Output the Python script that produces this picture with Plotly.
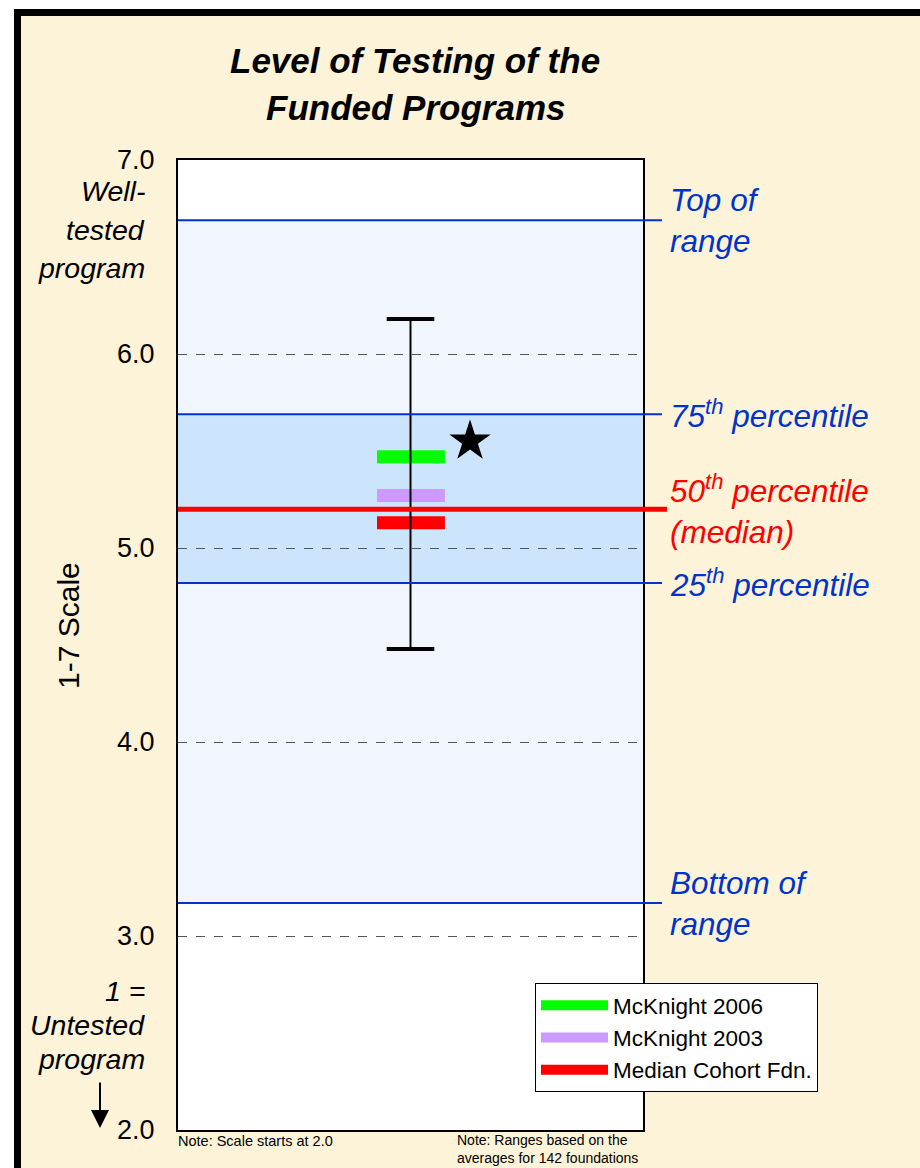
import plotly.graph_objects as go

# ---------------- data ----------------
range_names = ["Top of range", "75th percentile", "50th percentile (median)", "25th percentile", "Bottom of range"]
range_values = [6.69, 5.69, 5.20, 4.82, 3.17]   # top, p75, median, p25, bottom

series_names = ["McKnight 2006", "McKnight 2003", "Median Cohort Fdn."]
series_values = [5.47, 5.27, 5.13]
series_colors = ["#00FF00", "#CC99FF", "#FF0000"]

whisker_low = 4.48
whisker_high = 6.18
star_value = 5.55

y_ticks = [2.0, 3.0, 4.0, 5.0, 6.0, 7.0]

# --------------------------------------
FONT = "Liberation Sans, Arial, sans-serif"
BLUE = "#0033CC"
RED = "#FF0000"

W, H = 920, 1168
L, R, T, B = 178, 643, 160, 1130


def px(xp):
    return (xp - L) / (R - L)


def py(yp):
    return (B - yp) / (B - T)


top, p75, med, p25, bot = range_values

fig = go.Figure()

# bars (short horizontal marks)
for name, val, col in zip(series_names, series_values, series_colors):
    fig.add_trace(go.Scatter(
        x=[0.428, 0.574], y=[val, val], mode="lines", name=name,
        line=dict(color=col, width=13), hoverinfo="skip"))

# range whisker
fig.add_trace(go.Scatter(
    x=[0.5, 0.5], y=[whisker_low, whisker_high], mode="lines",
    line=dict(color="black", width=2), showlegend=False, hoverinfo="skip"))
fig.add_trace(go.Scatter(
    x=[0.5, 0.5], y=[whisker_low, whisker_high], mode="markers",
    marker=dict(symbol="line-ew", size=34, line=dict(color="black", width=4)),
    showlegend=False, hoverinfo="skip"))

# star
fig.add_trace(go.Scatter(
    x=[0.628], y=[star_value], mode="markers",
    marker=dict(symbol="star", size=31, color="black"),
    showlegend=False, hoverinfo="skip"))

shapes = [
    # cream card with black frame
    dict(type="rect", xref="paper", yref="paper", layer="below",
         x0=px(17.5), x1=px(940), y0=py(1190), y1=py(12.5),
         fillcolor="#FDF3D8", line=dict(color="black", width=7)),
    # white plot area
    dict(type="rect", xref="paper", yref="paper", layer="below",
         x0=0, x1=1, y0=0, y1=1, fillcolor="white", line=dict(width=0)),
    # full range band
    dict(type="rect", xref="x", yref="y", layer="below",
         x0=0, x1=1, y0=bot, y1=top, fillcolor="#F1F6FE", line=dict(width=0)),
    # interquartile band
    dict(type="rect", xref="x", yref="y", layer="below",
         x0=0, x1=1, y0=p25, y1=p75, fillcolor="#CCE4FC", line=dict(width=0)),
]
for v in [top, p75, p25, bot]:
    shapes.append(dict(type="line", xref="paper", yref="y", layer="above",
                       x0=0, x1=px(662), y0=v, y1=v,
                       line=dict(color=BLUE, width=2)))
shapes.append(dict(type="line", xref="paper", yref="y", layer="above",
                   x0=0, x1=px(667), y0=med, y1=med,
                   line=dict(color=RED, width=5)))

annotations = []
# title
annotations.append(dict(xref="paper", yref="paper", x=px(415), y=py(61),
                        text="<b><i>Level of Testing of the</i></b>", showarrow=False,
                        font=dict(family=FONT, size=35, color="black"),
                        xanchor="center", yanchor="middle"))
annotations.append(dict(xref="paper", yref="paper", x=px(415), y=py(108),
                        text="<b><i>Funded Programs</i></b>", showarrow=False,
                        font=dict(family=FONT, size=35, color="black"),
                        xanchor="center", yanchor="middle"))
# left labels
for txt, ypix in [("Well-", 191), ("tested", 230), ("program", 268),
                  ("1 =", 991), ("Untested", 1025), ("program", 1059)]:
    annotations.append(dict(xref="paper", yref="paper", x=px(147), y=py(ypix),
                            text=f"<i>{txt}</i>", showarrow=False,
                            font=dict(family=FONT, size=28.5, color="black"),
                            xanchor="right", yanchor="middle"))
# arrow
annotations.append(dict(xref="paper", yref="paper", x=px(100), y=py(1128),
                        text="", showarrow=True, ax=0, ay=-47,
                        arrowhead=2, arrowsize=1.8, arrowwidth=2, arrowcolor="black"))
# y-axis title
annotations.append(dict(xref="paper", yref="paper", x=px(68), y=py(626),
                        text="1-7 Scale", textangle=-90, showarrow=False,
                        font=dict(family=FONT, size=30, color="black"),
                        xanchor="center", yanchor="middle"))
# right labels
right_texts = ["<i>Top of<br>range</i>",
               "<i>75<sup>th</sup> percentile</i>",
               "<i>50<sup>th</sup> percentile<br>(median)</i>",
               "<i>25<sup>th</sup> percentile</i>",
               "<i>Bottom of<br>range</i>"]
right_colors = [BLUE, BLUE, RED, BLUE, BLUE]
for txt, v, col in zip(right_texts, range_values, right_colors):
    annotations.append(dict(xref="paper", yref="y", x=px(668), y=v,
                            text=txt, showarrow=False, align="left",
                            font=dict(family=FONT, size=31.5, color=col),
                            xanchor="left", yanchor="middle"))
# notes
annotations.append(dict(xref="paper", yref="paper", x=px(176), y=py(1131),
                        text="Note: Scale starts at 2.0", showarrow=False,
                        font=dict(family=FONT, size=14.5, color="black"),
                        xanchor="left", yanchor="top"))
annotations.append(dict(xref="paper", yref="paper", x=px(455), y=py(1130),
                        text="Note: Ranges based on the<br>averages for 142 foundations",
                        showarrow=False, align="left",
                        font=dict(family=FONT, size=14, color="black"),
                        xanchor="left", yanchor="top"))

fig.update_layout(
    width=W, height=H,
    margin=dict(l=L, r=W - R, t=T, b=H - B, pad=0),
    paper_bgcolor="white", plot_bgcolor="white",
    font=dict(family=FONT, color="black"),
    shapes=shapes, annotations=annotations,
    showlegend=True,
    legend=dict(x=px(535), y=py(983), xanchor="left", yanchor="top",
                bgcolor="white", bordercolor="black", borderwidth=1,
                font=dict(family=FONT, size=22.5, color="black"),
                tracegroupgap=0, itemwidth=67, entrywidth=255),
    xaxis=dict(range=[0, 1], showticklabels=False, showgrid=False, zeroline=False,
               showline=True, mirror=True, linecolor="black", linewidth=2, ticks=""),
    yaxis=dict(range=[2, 7], tickvals=y_ticks, tickformat=".1f",
               tickfont=dict(family=FONT, size=27, color="black"),
               showgrid=True, griddash="dash", gridcolor="#555555", gridwidth=1,
               zeroline=False, showline=True, mirror=True, linecolor="black",
               linewidth=2, ticks="", ticklabelstandoff=16),
)

fig.write_html("out.html")
